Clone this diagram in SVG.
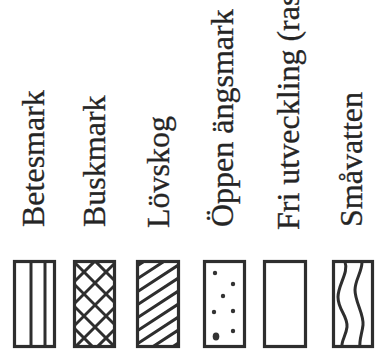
<svg xmlns="http://www.w3.org/2000/svg" width="382" height="359" viewBox="0 0 382 359">
<style>
.lbl{font-family:"Liberation Serif","Times New Roman",serif;font-size:32px;fill:#252525;stroke:#252525;stroke-width:0.3}
.box{fill:none;stroke:#2e2e2e;stroke-width:3.2}
.ln{fill:none;stroke:#2e2e2e;stroke-width:3}
.dot{fill:#333}
</style>
<defs>
<clipPath id="c2"><rect x="74.5" y="261.5" width="40" height="85"/></clipPath>
<clipPath id="c3"><rect x="137.5" y="261.5" width="41" height="85"/></clipPath>
</defs>
<rect width="382" height="359" fill="#fff"/>
<g id="betesmark">
<text class="lbl" transform="translate(44,227) rotate(-90)">Betesmark</text>
<rect class="box" x="14.5" y="261.5" width="40" height="85"/>
<line class="ln" x1="31" y1="261.5" x2="31" y2="346.5"/>
<line class="ln" x1="45" y1="261.5" x2="45" y2="346.5"/>
</g>
<g id="buskmark">
<text class="lbl" transform="translate(105,227) rotate(-90)">Buskmark</text>
<g clip-path="url(#c2)">
<path class="ln" d="M60,296 L130,226 M60,318 L130,248 M60,340 L130,270 M60,362 L130,292 M60,384 L130,314 M60,406 L130,336"/>
<path class="ln" d="M60,314 L130,384 M60,292 L130,362 M60,270 L130,340 M60,248 L130,318 M60,226 L130,296"/>
</g>
<rect class="box" x="74.5" y="261.5" width="40" height="85"/>
</g>
<g id="lovskog">
<text class="lbl" transform="translate(169,228) rotate(-90)">Lövskog</text>
<g clip-path="url(#c3)">
<path class="ln" d="M130,270.5 L190,231.5 M130,283.5 L190,244.5 M130,296.5 L190,257.5 M130,309.5 L190,270.5 M130,322.5 L190,283.5 M130,335.5 L190,296.5 M130,348.5 L190,309.5 M130,361.5 L190,322.5 M130,374.5 L190,335.5 M130,387.5 L190,348.5"/>
</g>
<rect class="box" x="137.5" y="261.5" width="41" height="85"/>
</g>
<g id="oppen-angsmark">
<text class="lbl" transform="translate(233,227) rotate(-90)">Öppen ängsmark</text>
<rect class="box" x="204.5" y="261.5" width="40" height="85"/>
<circle class="dot" cx="215" cy="273" r="2.2"/>
<circle class="dot" cx="233" cy="284" r="2.2"/>
<circle class="dot" cx="223" cy="296" r="2.2"/>
<circle class="dot" cx="214" cy="312" r="2.2"/>
<circle class="dot" cx="233" cy="311" r="2.2"/>
<circle class="dot" cx="233" cy="331" r="2.2"/>
<ellipse class="dot" cx="216" cy="336.5" rx="3.3" ry="3.9"/>
</g>
<g id="fri-utveckling">
<text class="lbl" transform="translate(299,230) rotate(-90)">Fri utveckling (ras</text>
<rect class="box" x="264.5" y="261.5" width="41" height="85"/>
</g>
<g id="smavatten">
<text class="lbl" transform="translate(362,227) rotate(-90)">Småvatten</text>
<rect class="box" x="333.5" y="261.5" width="39" height="85"/>
<path class="ln" d="M345,262 C349,272 338,285 338,297 C338,310 348,316 347,327 C346,336 341,341 342,347"/>
<path class="ln" d="M362,262 C362,272 355,280 355,290 C355,302 364,314 363,325 C362,334 359,340 360,347"/>
</g>
</svg>
